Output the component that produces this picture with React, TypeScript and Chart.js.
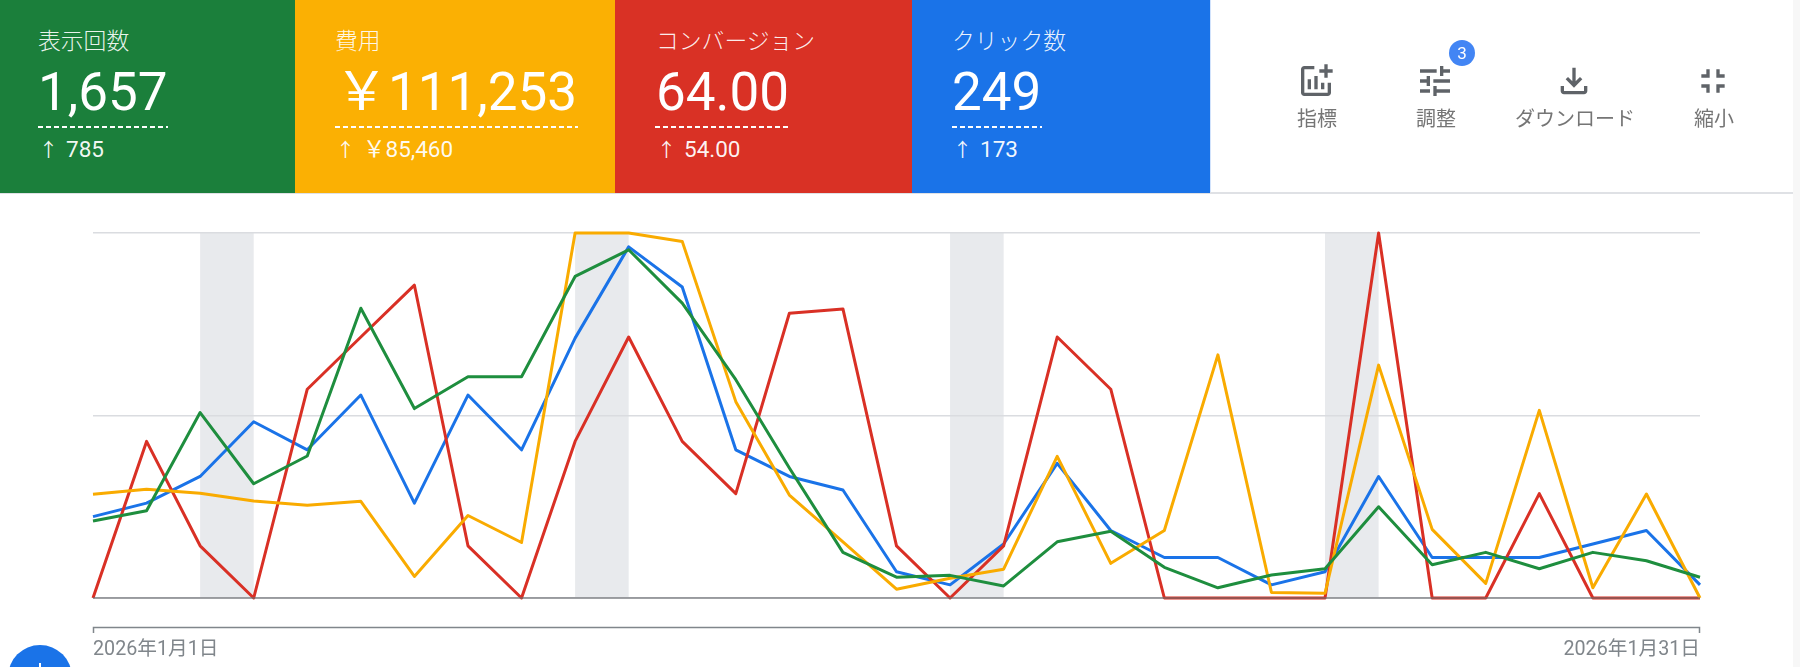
import React, { useEffect, useRef } from "react";
import { Chart, registerables } from "chart.js";

Chart.register(...registerables);

const categories = [
  "2026年1月1日","2026年1月2日","2026年1月3日","2026年1月4日","2026年1月5日","2026年1月6日","2026年1月7日","2026年1月8日",
  "2026年1月9日","2026年1月10日","2026年1月11日","2026年1月12日","2026年1月13日","2026年1月14日","2026年1月15日","2026年1月16日",
  "2026年1月17日","2026年1月18日","2026年1月19日","2026年1月20日","2026年1月21日","2026年1月22日","2026年1月23日","2026年1月24日",
  "2026年1月25日","2026年1月26日","2026年1月27日","2026年1月28日","2026年1月29日","2026年1月30日","2026年1月31日",
];
const impressions = [21.1,23.9,50.8,31.3,38.9,79.4,51.9,60.6,60.6,88.1,95.4,80.8,59.8,35.6,12.5,5.7,6.2,3.3,15.4,18.3,8.4,2.8,6.3,8,25,9.1,12.5,8,12.5,10.2,5.7];
const cost = [28.4,29.8,28.7,26.6,25.4,26.5,5.9,22.6,15.2,100,100,97.7,53.8,28.2,15.4,2.4,5.4,7.9,38.8,9.5,18.5,66.6,1.5,1.3,63.8,18.8,4,51.4,2.8,28.5,0];
const conversions = [0,42.9,14.3,0,57.2,71.5,85.7,14.3,0,42.9,71.5,42.9,28.6,78,79.2,14.3,0,14.3,71.5,57.2,0,0,0,0,100,0,0,28.6,0,0,0];
const clicks = [22.3,26,33.3,48.3,40.6,55.6,26,55.6,40.6,71.2,96.2,85.2,40.6,33.3,29.6,7.2,3.6,14.8,36.9,18.5,11.1,11.1,3.6,7.2,33.3,11.1,11.1,11.1,14.8,18.5,3.6];
const weekendStarts = [2, 9, 16, 23];
const yTicks = [0, 50, 100];

const FONT = 'Roboto, "Noto Sans CJK JP", sans-serif';

const cards = [
  { title: "表示回数", value: "1,657", delta: "785", bg: "#1b7f3b", x: 0, w: 295, tx: 38, ux: 38, uw: 130 },
  { title: "費用", value: "￥111,253", delta: "￥85,460", bg: "#fbb003", x: 295, w: 320, tx: 335, ux: 335, uw: 243 },
  { title: "コンバージョン", value: "64.00", delta: "54.00", bg: "#d93125", x: 615, w: 297, tx: 656, ux: 655, uw: 134 },
  { title: "クリック数", value: "249", delta: "173", bg: "#1a73e8", x: 912, w: 298, tx: 952, ux: 952, uw: 90 },
];

const tools = [
  { label: "指標", cx: 1317, d: "M22 5v2h-3v3h-2V7h-3V5h3V2h2v3h3zm-3 14H5V5h6V3H5c-1.1 0-2 .9-2 2v14c0 1.1.9 2 2 2h14c1.1 0 2-.9 2-2v-6h-2v6zm-4-6v4h2v-4h-2zm-4 4h2V9h-2v8zm-2 0v-6H7v6h2z" },
  { label: "調整", cx: 1436, d: "M3 17v2h6v-2H3zM3 5v2h10V5H3zm10 16v-2h8v-2h-8v-2h-2v6h2zM7 9v2H3v2h4v2h2V9H7zm14 4v-2H11v2h10zm-6-4h2V7h4V5h-4V3h-2v6z" },
  { label: "ダウンロード", cx: 1575, d: "M18 15v3H6v-3H4v3c0 1.1.9 2 2 2h12c1.1 0 2-.9 2-2v-3h-2zm-1-4l-1.41-1.41L13 12.17V4h-2v8.17L8.41 9.59 7 11l5 5 5-5z" },
  { label: "縮小", cx: 1714, d: "M5 16h3v3h2v-5H5v2zm3-8H5v2h5V5H8v3zm6 11h2v-3h3v-2h-5v5zm2-11V5h-2v5h5V8h-3z" },
];

const decorPlugin = {
  id: "decor",
  beforeDraw(chart: any) {
    const { ctx, chartArea, scales } = chart;
    ctx.save();
    ctx.fillStyle = "#e8eaed";
    for (const s of weekendStarts) {
      const a = scales.x.getPixelForValue(s);
      const b = scales.x.getPixelForValue(s + 1);
      ctx.fillRect(a, chartArea.top, b - a, chartArea.bottom - chartArea.top);
    }
    ctx.restore();
  },
  afterDatasetsDraw(chart: any) {
    const { ctx, chartArea, scales } = chart;
    const y0 = scales.y.getPixelForValue(0);
    ctx.save();
    ctx.strokeStyle = "rgba(105,108,112,0.78)";
    ctx.lineWidth = 1.5;
    ctx.beginPath();
    ctx.moveTo(chartArea.left, y0);
    ctx.lineTo(chartArea.right, y0);
    ctx.stroke();
    ctx.strokeStyle = "#80868b";
    ctx.lineWidth = 1.5;
    ctx.beginPath();
    ctx.moveTo(chartArea.left + 0.5, y0 + 35);
    ctx.lineTo(chartArea.left + 0.5, y0 + 29.5);
    ctx.lineTo(chartArea.right - 0.5, y0 + 29.5);
    ctx.lineTo(chartArea.right - 0.5, y0 + 35);
    ctx.stroke();
    ctx.restore();
  },
};

function Card({ c }: { c: (typeof cards)[number] }) {
  return (
    <>
      <div style={{ position: "absolute", left: c.x, top: 0, width: c.w, height: 193, background: c.bg }} />
      <div style={{ position: "absolute", left: c.tx, top: 27, fontSize: 22.8, lineHeight: "30px", fontWeight: 300, color: "rgba(255,255,255,0.92)", whiteSpace: "nowrap" }}>{c.title}</div>
      <div style={{ position: "absolute", left: c.tx, top: 61, fontSize: 53, lineHeight: "62px", fontWeight: 400, color: "#fff", whiteSpace: "nowrap" }}>{c.value}</div>
      <div style={{ position: "absolute", left: c.ux, top: 126, width: c.uw, height: 2, background: "repeating-linear-gradient(90deg,#fff 0 5px,transparent 5px 8px)" }} />
      <div style={{ position: "absolute", left: c.tx + 1, top: 134, fontSize: 22.5, lineHeight: "30px", fontWeight: 400, color: "rgba(255,255,255,0.95)", whiteSpace: "nowrap" }}>
        <span style={{ display: "inline-block", width: 27, fontSize: 19 }}>↑</span>{c.delta}
      </div>
    </>
  );
}

export default function App() {
  const ref = useRef<HTMLCanvasElement | null>(null);
  useEffect(() => {
    const chart = new Chart(ref.current as HTMLCanvasElement, {
      type: "line",
      data: {
        labels: categories,
        datasets: [
          { label: "表示回数", data: impressions, borderColor: "#1e8e3e" },
          { label: "費用", data: cost, borderColor: "#f9ab00" },
          { label: "コンバージョン", data: conversions, borderColor: "#d93025" },
          { label: "クリック数", data: clicks, borderColor: "#1a73e8" },
        ].map((d) => ({ ...d, borderWidth: 3, borderJoinStyle: "round" as const, pointRadius: 0, tension: 0, fill: false, clip: false as any })),
      },
      options: {
        animation: false,
        responsive: false,
        layout: { padding: { left: 93, right: 100, top: 233, bottom: 0 } },
        plugins: { legend: { display: false }, tooltip: { enabled: false } },
        scales: {
          x: {
            grid: { display: false, drawTicks: false },
            border: { display: false },
            afterFit(s: any) { s.height = 69; },
            ticks: {
              autoSkip: false,
              maxRotation: 0,
              align: "inner",
              padding: 40,
              color: "#80868b",
              font: { family: FONT, size: 19.7 },
              callback(_v: any, i: number) {
                return i === 0 || i === categories.length - 1 ? categories[i] : "";
              },
            },
          },
          y: {
            min: yTicks[0],
            max: yTicks[yTicks.length - 1],
            afterBuildTicks(s: any) { s.ticks = yTicks.map((value) => ({ value })); },
            grid: { color: "#dadce0", lineWidth: 1.5, drawTicks: false },
            border: { display: false },
            ticks: { display: false },
          },
        },
      },
      plugins: [decorPlugin],
    } as any);
    return () => chart.destroy();
  }, []);

  return (
    <div style={{ position: "fixed", left: 0, top: 0, width: 1800, height: 667, overflow: "hidden", background: "#fff", fontFamily: FONT }}>
      <canvas ref={ref} width={1800} height={667} style={{ position: "absolute", left: 0, top: 0, display: "block" }} />
      <div style={{ position: "absolute", left: 0, top: 192, width: 1793, height: 2, background: "#dfe1e5" }} />
      <div style={{ position: "absolute", left: 1210, top: 0, width: 1, height: 192, background: "#d2e3fc" }} />
      <div style={{ position: "absolute", left: 1793, top: 0, width: 7, height: 667, background: "#f7f7f7" }} />
      {cards.map((c) => <Card key={c.title} c={c} />)}
      {tools.map((t) => (
        <React.Fragment key={t.label}>
          <svg viewBox="0 0 24 24" width={40} height={40} style={{ position: "absolute", left: t.cx - 21, top: 61 }}>
            <path d={t.d} fill="#5f6368" />
          </svg>
          <div style={{ position: "absolute", left: t.cx - 100, width: 200, top: 105, textAlign: "center", fontSize: 20, lineHeight: "28px", color: "#757575", whiteSpace: "nowrap" }}>{t.label}</div>
        </React.Fragment>
      ))}
      <div style={{ position: "absolute", left: 1449, top: 40, width: 26, height: 26, borderRadius: 13, background: "#4285f4", color: "#fff", fontSize: 17, lineHeight: "26px", textAlign: "center" }}>3</div>
      <div style={{ position: "absolute", left: 8, top: 645, width: 64, height: 64, borderRadius: 32, background: "#1a73e8" }}>
        <div style={{ position: "absolute", left: 31, top: 18, width: 2, height: 28, background: "#fff" }} />
      </div>
    </div>
  );
}
